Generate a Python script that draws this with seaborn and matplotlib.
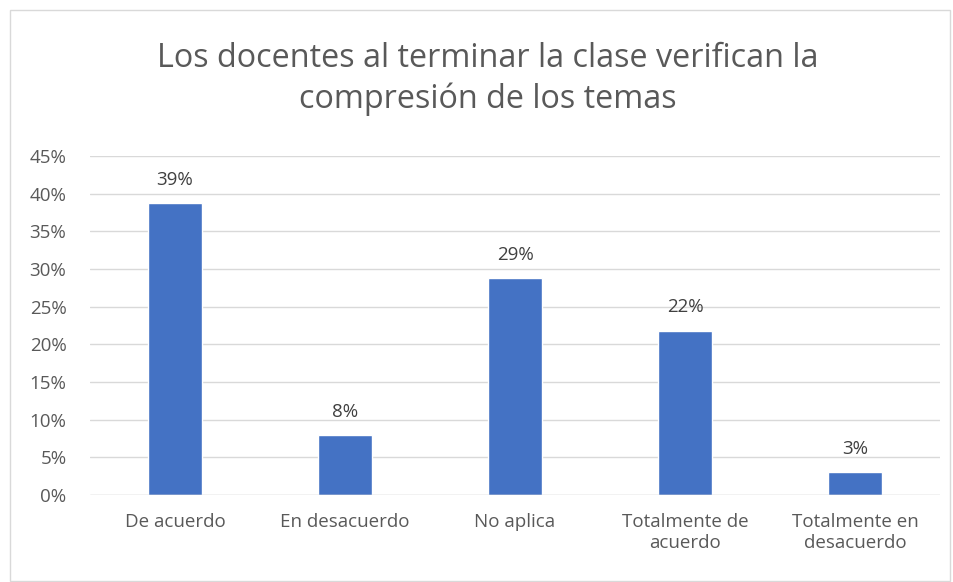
import matplotlib
matplotlib.use("Agg")
import matplotlib.pyplot as plt
import seaborn as sns
import pandas as pd
from matplotlib.patches import Rectangle

categories = ["De acuerdo", "En desacuerdo", "No aplica", "Totalmente de\nacuerdo", "Totalmente en\ndesacuerdo"]
values = [38.7, 7.9, 28.8, 21.8, 3.0]
labels = ["39%", "8%", "29%", "22%", "3%"]
yticks = [0, 5, 10, 15, 20, 25, 30, 35, 40, 45]
title = "Los docentes al terminar la clase verifican la\ncompresión de los temas"

sns.set_theme(style="white")
plt.rcParams['font.family'] = ['Open Sans', 'DejaVu Sans']

df = pd.DataFrame({"cat": categories, "val": values})
fig = plt.figure(figsize=(9.54, 5.82), dpi=100)
ax = fig.add_axes([90/954, 1 - 495/582, (940-90)/954, (495-156)/582])

sns.barplot(data=df, x="cat", y="val", color="#4472C4", width=0.32, saturation=1, ax=ax, zorder=3)

ax.set_ylim(0, 45)
ax.set_yticks(yticks)
ax.set_yticklabels([f"{t}%" for t in yticks], fontsize=13.5, color="#595959")
ax.tick_params(axis='x', labelsize=13.5, colors="#595959", length=0, pad=13)
ax.tick_params(axis='y', length=0, pad=17)
for t in yticks[1:]:
    ax.axhline(t, color="#D9D9D9", lw=1, zorder=0)
ax.axhline(0, color="#BFBFBF", lw=1, zorder=4)
for s in ax.spines.values():
    s.set_visible(False)
ax.set_xlabel("")
ax.set_ylabel("")

for i, (v, l) in enumerate(zip(values, labels)):
    ax.text(i, v + 1.9, l, ha="center", va="bottom", fontsize=13.5, color="#404040")

fig.text(488/954, 1 - 79/582, title, ha="center", va="center", fontsize=23.3, color="#595959", linespacing=1.3)

fig.patches.append(Rectangle((10/954, 0.002), 940/954, 1 - 10/582 - 0.002, transform=fig.transFigure,
                             fill=False, edgecolor="#D9D9D9", lw=1))

fig.savefig("out.png", dpi=100)
